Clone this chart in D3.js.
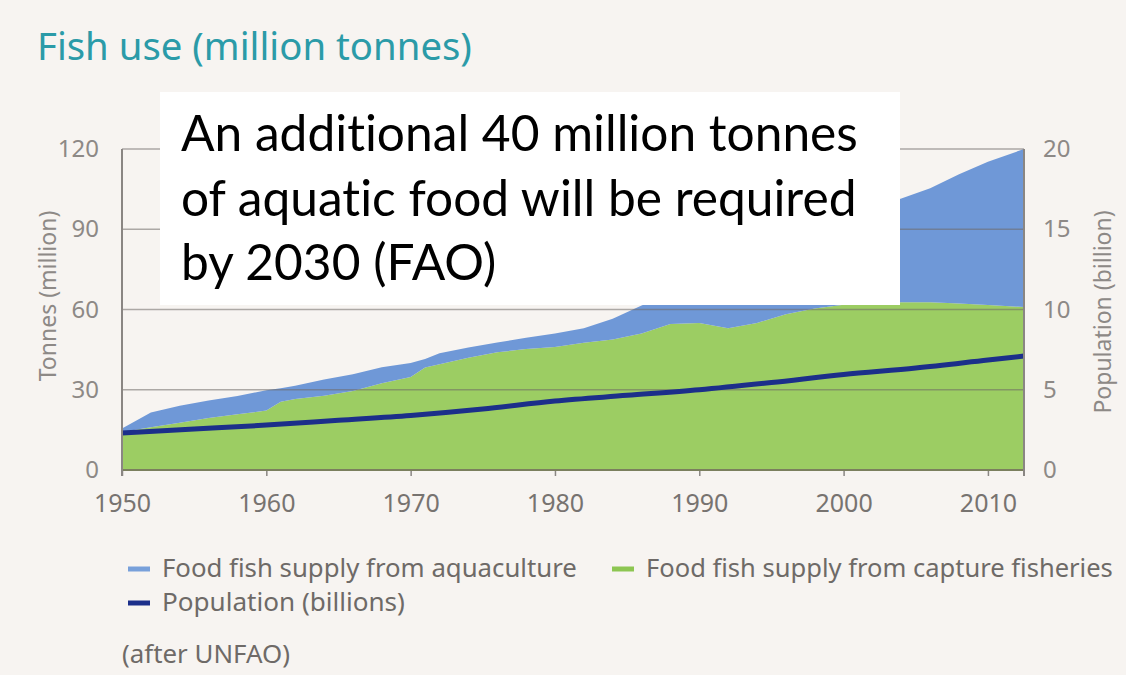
<!DOCTYPE html>
<html>
<head>
<meta charset="utf-8">
<script src="https://cdnjs.cloudflare.com/ajax/libs/d3/7.8.5/d3.min.js"></script>
<style>
  body { margin: 0; background: #f7f4f1; }
  svg { display: block; }
  text { font-variant-ligatures: none; }
</style>
</head>
<body>
<div id="chart"></div>
<script>
// values (million tonnes, billions)
var years = [1950, 1952, 1954, 1956, 1958, 1960, 1961, 1962, 1964, 1966, 1968, 1970, 1971, 1972,
  1974, 1976, 1978, 1980, 1982, 1984, 1986, 1988, 1990, 1992, 1994, 1996, 1998, 2000, 2002,
  2004, 2006, 2008, 2010, 2012.5];
var capture = [14.2, 16.0, 17.7, 19.4, 20.8, 22.2, 25.5, 26.5, 27.8, 29.5, 32.4, 34.8, 38.3, 39.5,
  42.0, 44.0, 45.2, 46.0, 47.6, 48.8, 51.0, 54.6, 55.0, 53.0, 55.0, 58.2, 60.4, 61.8, 62.5,
  62.7, 62.7, 62.2, 61.7, 60.9];
var aquaculture = [1.3, 5.5, 6.3, 6.6, 6.9, 7.6, 5.1, 5.0, 6.0, 6.3, 6.0, 5.2, 3.2, 4.1,
  3.8, 3.7, 4.2, 5.0, 5.4, 7.7, 10.5, 11.0, 14.0, 20.0, 23.0, 25.8, 28.6, 32.2, 35.5,
  38.8, 42.6, 48.4, 53.5, 59.1];
var popYears = [1950, 1955, 1960, 1965, 1970, 1975, 1980, 1985, 1990, 1995, 2000, 2005, 2010, 2012.5];
var population = [2.3, 2.55, 2.8, 3.1, 3.4, 3.8, 4.3, 4.65, 5.0, 5.45, 5.95, 6.35, 6.85, 7.1];

var yearTicks = [1950, 1960, 1970, 1980, 1990, 2000, 2010];
var tonneTicks = [0, 30, 60, 90, 120];
var popTicks = [0, 5, 10, 15, 20];
var legendNames = ['Food fish supply from aquaculture', 'Food fish supply from capture fisheries', 'Population (billions)'];
var boxLines = ['An additional 40 million tonnes', 'of aquatic food will be required', 'by 2030 (FAO)'];

(function () {
  'use strict';

  var width = 1126, height = 675;
  var plot = {left: 122, right: 1024, top: 149, bottom: 470};
  var blue = '#6f98d7', green = '#9ccd63', navy = '#1c2f8a';
  var grey = '#8a8683';

  var svg = d3.select('#chart').append('svg')
    .attr('width', width)
    .attr('height', height);

  svg.append('rect')
    .attr('width', width)
    .attr('height', height)
    .attr('fill', '#f7f4f1');

  // scales
  var x = d3.scaleLinear().domain([1950, 2012.5]).range([plot.left, plot.right]);
  var y = d3.scaleLinear().domain([0, 120]).range([plot.bottom, plot.top]);
  var yPop = d3.scaleLinear().domain([0, 20]).range([plot.bottom, plot.top]);

  // scale a text's font-size so it spans the given width
  function fitWidth(sel, target) {
    var w = sel.node().getComputedTextLength();
    var fs = parseFloat(sel.attr('font-size'));
    sel.attr('font-size', fs * target / w);
    return sel;
  }

  // stacked areas
  var rows = years.map(function (yr, i) {
    return {year: yr, capture: capture[i], aquaculture: aquaculture[i]};
  });
  var stacked = d3.stack().keys(['capture', 'aquaculture'])(rows);
  var area = d3.area()
    .x(function (d) { return x(d.data.year); })
    .y0(function (d) { return y(d[0]); })
    .y1(function (d) { return y(d[1]); });

  svg.selectAll('path.layer')
    .data(stacked)
    .enter().append('path')
    .attr('class', 'layer')
    .attr('d', area)
    .attr('fill', function (d) { return d.key === 'capture' ? green : blue; });

  // gridlines on top of the areas
  svg.selectAll('line.grid')
    .data(tonneTicks.slice(1))
    .enter().append('line')
    .attr('class', 'grid')
    .attr('x1', plot.left)
    .attr('x2', plot.right)
    .attr('y1', function (d) { return y(d); })
    .attr('y2', function (d) { return y(d); })
    .attr('stroke', '#6f6a66')
    .attr('stroke-opacity', 0.55)
    .attr('stroke-width', 1.5);

  // population line
  var popLine = d3.line()
    .x(function (d, i) { return x(popYears[i]); })
    .y(function (d) { return yPop(d); })
    .curve(d3.curveMonotoneX);
  svg.append('path')
    .attr('d', popLine(population))
    .attr('fill', 'none')
    .attr('stroke', navy)
    .attr('stroke-width', 5);

  // axes
  var xAxis = svg.append('g')
    .attr('transform', 'translate(0,' + plot.bottom + ')')
    .call(d3.axisBottom(x).tickValues(yearTicks).tickFormat(d3.format('d')).tickSize(6).tickPadding(18));
  xAxis.select('.domain').remove();
  xAxis.selectAll('.tick line').attr('stroke', grey).attr('stroke-width', 1.5);
  xAxis.selectAll('text')
    .attr('fill', '#777370')
    .attr('font-family', 'Noto Sans, sans-serif')
    .attr('font-size', 25);

  svg.append('line')
    .attr('x1', plot.left).attr('x2', plot.right)
    .attr('y1', plot.bottom).attr('y2', plot.bottom)
    .attr('stroke', '#7b7f5e').attr('stroke-width', 2);

  [plot.left, plot.right].forEach(function (px) {
    svg.append('line')
      .attr('x1', px).attr('x2', px)
      .attr('y1', plot.top).attr('y2', plot.bottom + 6)
      .attr('stroke', grey).attr('stroke-width', 2);
  });

  var yAxis = svg.append('g')
    .attr('transform', 'translate(' + (plot.left - 20) + ',0)')
    .call(d3.axisLeft(y).tickValues(tonneTicks).tickSize(0));
  var yAxisR = svg.append('g')
    .attr('transform', 'translate(' + (plot.right + 16) + ',0)')
    .call(d3.axisRight(yPop).tickValues(popTicks).tickSize(0));
  [yAxis, yAxisR].forEach(function (g) {
    g.select('.domain').remove();
    g.selectAll('text')
      .attr('fill', '#8d8986')
      .attr('font-family', 'Noto Sans, sans-serif')
      .attr('font-size', 24);
  });

  // axis titles
  svg.append('text')
    .attr('transform', 'translate(56,296) rotate(-90)')
    .attr('text-anchor', 'middle')
    .attr('fill', '#8d8986')
    .attr('font-family', 'Noto Sans, sans-serif')
    .attr('font-size', 23)
    .text('Tonnes (million)');
  svg.append('text')
    .attr('transform', 'translate(1111,312) rotate(-90)')
    .attr('text-anchor', 'middle')
    .attr('fill', '#8d8986')
    .attr('font-family', 'Noto Sans, sans-serif')
    .attr('font-size', 23)
    .text('Population (billion)');

  // title
  fitWidth(svg.append('text')
    .attr('x', 37)
    .attr('y', 60)
    .attr('fill', '#2b9ba8')
    .attr('font-family', 'Noto Sans, sans-serif')
    .attr('font-size', 30)
    .text('Fish use (million tonnes)'), 435);

  // white call-out box
  svg.append('rect')
    .attr('x', 160).attr('y', 92)
    .attr('width', 740).attr('height', 213)
    .attr('fill', '#ffffff');
  var boxText = svg.selectAll('text.box')
    .data(boxLines)
    .enter().append('text')
    .attr('class', 'box')
    .attr('x', 181)
    .attr('y', function (d, i) { return 151 + i * 64.5; })
    .attr('fill', '#000000')
    .attr('font-family', 'Lato, sans-serif')
    .attr('font-size', 44)
    .text(function (d) { return d; });
  fitWidth(d3.select(boxText.nodes()[0]), 677);
  boxText.attr('font-size', d3.select(boxText.nodes()[0]).attr('font-size'));

  // legend
  var legend = [
    {name: legendNames[0], color: '#78a0da', x: 128, y: 569, w: 415},
    {name: legendNames[1], color: '#8dc652', x: 612, y: 569, w: 467},
    {name: legendNames[2], color: navy, x: 128, y: 603, w: 243}
  ];
  legend.forEach(function (d) {
    svg.append('line')
      .attr('x1', d.x).attr('x2', d.x + 22)
      .attr('y1', d.y).attr('y2', d.y)
      .attr('stroke', d.color)
      .attr('stroke-width', 5);
    fitWidth(svg.append('text')
      .attr('x', d.x + 34)
      .attr('y', d.y + 8)
      .attr('fill', '#6e6a67')
      .attr('font-family', 'Noto Sans, sans-serif')
      .attr('font-size', 22)
      .text(d.name), d.w);
  });

  fitWidth(svg.append('text')
    .attr('x', 122)
    .attr('y', 663)
    .attr('fill', '#6e6a67')
    .attr('font-family', 'Noto Sans, sans-serif')
    .attr('font-size', 22)
    .text('(after UNFAO)'), 168);
})();
</script>
</body>
</html>
